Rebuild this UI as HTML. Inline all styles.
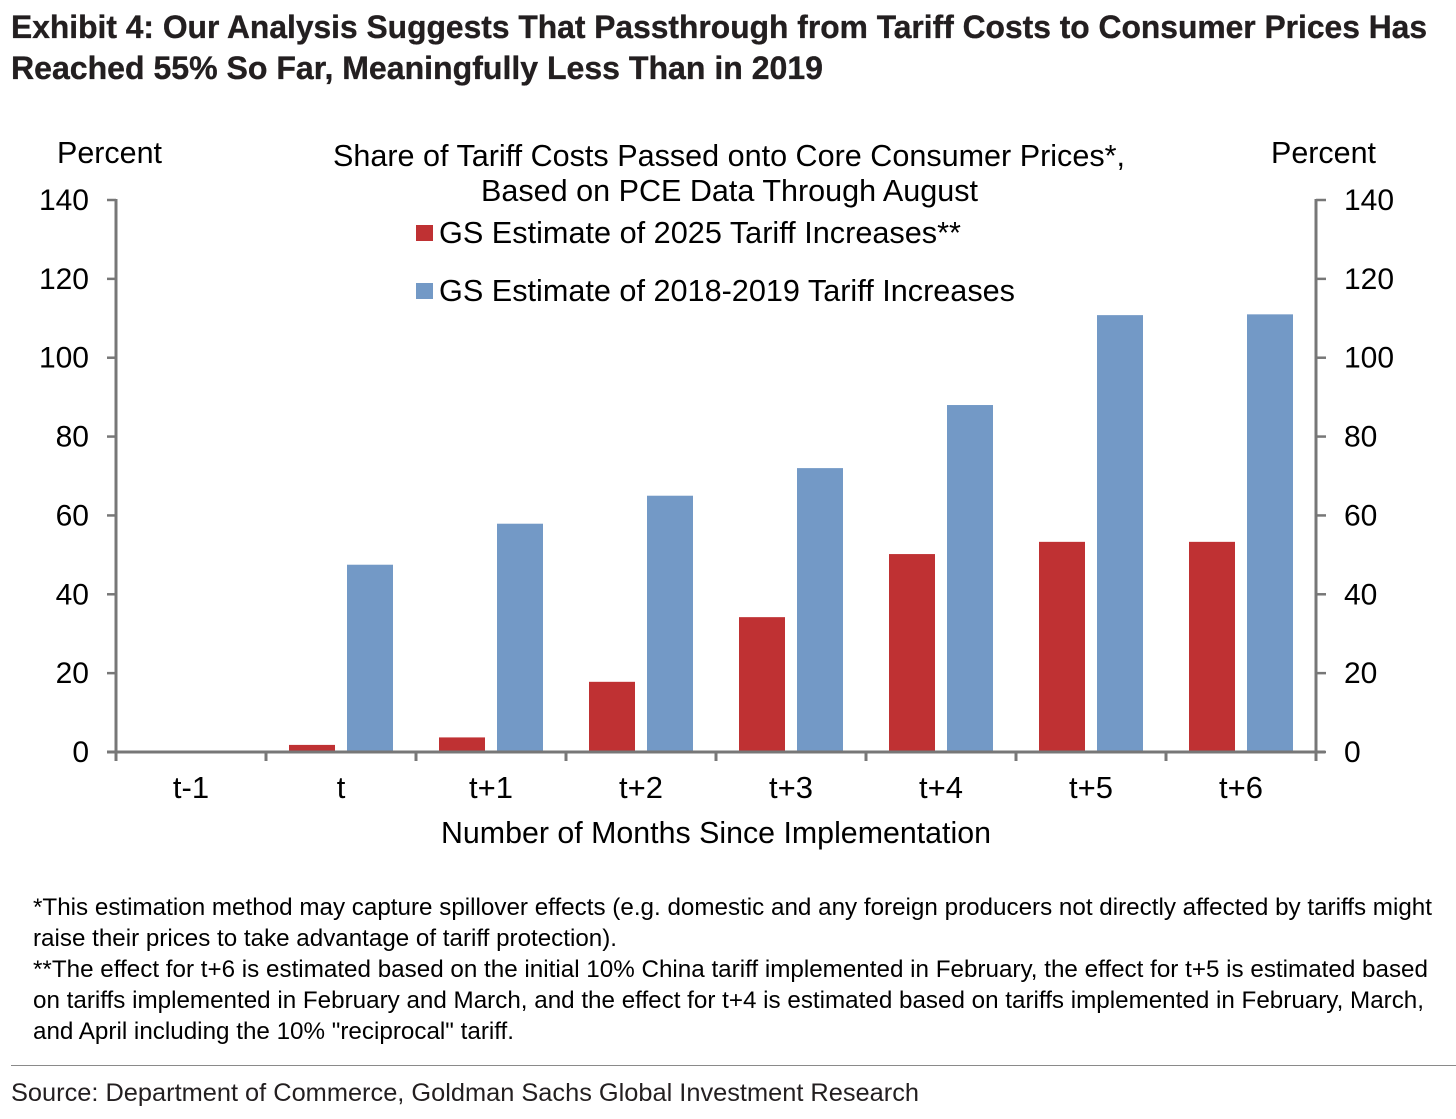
<!DOCTYPE html>
<html lang="en">
<head>
<meta charset="utf-8">
<title>Exhibit 4</title>
<style>
html,body{margin:0;padding:0;background:#fff;width:1456px;height:1119px;overflow:hidden}
svg{display:block}
text{font-family:"Liberation Sans",Arial,sans-serif;fill:#000}
.head{font-weight:bold;font-size:32px;fill:#231f20;stroke:#231f20;stroke-width:0.35px}
.lab{font-size:31px}
.note{font-size:24.5px}
.src{font-size:25px;fill:#231f20}
</style>
</head>
<body>
<svg id="chart" width="1456" height="1119" viewBox="0 0 1456 1119" xmlns="http://www.w3.org/2000/svg">
<text class="head" x="11" y="38" textLength="1416" lengthAdjust="spacingAndGlyphs">Exhibit 4: Our Analysis Suggests That Passthrough from Tariff Costs to Consumer Prices Has</text>
<text class="head" x="11" y="79" textLength="812" lengthAdjust="spacingAndGlyphs">Reached 55% So Far, Meaningfully Less Than in 2019</text>
<text class="lab" x="57" y="163" textLength="105" lengthAdjust="spacingAndGlyphs">Percent</text>
<text class="lab" x="1271" y="163" textLength="105" lengthAdjust="spacingAndGlyphs">Percent</text>
<text class="lab" x="333" y="166" textLength="792" lengthAdjust="spacingAndGlyphs">Share of Tariff Costs Passed onto Core Consumer Prices*,</text>
<text class="lab" x="481" y="201" textLength="497" lengthAdjust="spacingAndGlyphs">Based on PCE Data Through August</text>
<g>
<rect x="416" y="225" width="17" height="16" fill="#bf3133"/>
<text class="lab" x="439" y="243" textLength="522" lengthAdjust="spacingAndGlyphs">GS Estimate of 2025 Tariff Increases**</text>
<rect x="416" y="283" width="17" height="16" fill="#7399c6"/>
<text class="lab" x="439" y="301" textLength="576" lengthAdjust="spacingAndGlyphs">GS Estimate of 2018-2019 Tariff Increases</text>
</g>
<g id="plot"></g>
<text class="lab" x="441" y="843" textLength="550" lengthAdjust="spacingAndGlyphs">Number of Months Since Implementation</text>
<g>
<text class="note" x="33" y="915" textLength="1399" lengthAdjust="spacingAndGlyphs">*This estimation method may capture spillover effects (e.g. domestic and any foreign producers not directly affected by tariffs might</text>
<text class="note" x="33" y="946" textLength="584" lengthAdjust="spacingAndGlyphs">raise their prices to take advantage of tariff protection).</text>
<text class="note" x="33" y="977" textLength="1395" lengthAdjust="spacingAndGlyphs">**The effect for t+6 is estimated based on the initial 10% China tariff implemented in February, the effect for t+5 is estimated based</text>
<text class="note" x="33" y="1008" textLength="1391" lengthAdjust="spacingAndGlyphs">on tariffs implemented in February and March, and the effect for t+4 is estimated based on tariffs implemented in February, March,</text>
<text class="note" x="33" y="1039" textLength="481" lengthAdjust="spacingAndGlyphs">and April including the 10% "reciprocal" tariff.</text>
</g>
<rect x="11" y="1065" width="1445" height="1" fill="#8a8a8a"/>
<text class="src" x="11" y="1101" textLength="908" lengthAdjust="spacingAndGlyphs">Source: Department of Commerce, Goldman Sachs Global Investment Research</text>
</svg>
<script>
const categories = ["t-1", "t", "t+1", "t+2", "t+3", "t+4", "t+5", "t+6"];
const series2025 = [0, 1.8, 3.7, 17.8, 34.2, 50.2, 53.3, 53.3];
const series2018 = [0, 47.5, 57.9, 65, 72, 88, 110.8, 111];
const yTicks = [0, 20, 40, 60, 80, 100, 120, 140];

const NS = "http://www.w3.org/2000/svg";
const plot = document.getElementById("plot");
const left = 116, right = 1316, y0 = 752, yTop = 200, yMax = 140;
const band = (right - left) / categories.length;
const barW = band * 46 / 150;
const offRed = band * 23 / 150;
const offBlue = band * 81 / 150;
const axisColor = "#777777";
function yScale(v) { return y0 - (v / yMax) * (y0 - yTop); }
function xScale(i) { return left + i * band; }
function add(tag, attrs, parent) {
  const el = document.createElementNS(NS, tag);
  Object.keys(attrs).forEach(function (k) { el.setAttribute(k, attrs[k]); });
  (parent || plot).appendChild(el);
  return el;
}
function drawBar(i, v, off, color, name) {
  if (v <= 0) return;
  const el = add("rect", { x: xScale(i) + off, y: yScale(v), width: barW, height: y0 - yScale(v), fill: color });
  
  
}
categories.forEach(function (c, i) {
  drawBar(i, series2025[i], offRed, "#bf3133", "bar-2025");
  drawBar(i, series2018[i], offBlue, "#7399c6", "bar-2018-2019");
});
function line(x1, y1, x2, y2, name, w) {
  const el = add("line", { x1: x1, y1: y1, x2: x2, y2: y2, stroke: axisColor, "stroke-width": w || 3 });
  
  
}
line(left, yTop - 1, left, y0 + 1, "left-y-axis");
line(right, yTop - 1, right, y0 + 1, "right-y-axis");
line(left - 9, y0, right + 9, y0, "x-axis");
yTicks.forEach(function (t) {
  const y = yScale(t);
  line(left - 9, y, left, y, "left-tick-" + t, 2.5);
  line(right, y, right + 10, y, "right-tick-" + t, 2.5);
  const a = add("text", { x: 89, y: y + 10, "text-anchor": "end", "font-size": 30 });
  a.textContent = t;
  
  
  const b = add("text", { x: 1344, y: y + 10, "font-size": 30 });
  b.textContent = t;
  
  
});
for (let i = 0; i <= categories.length; i++) {
  line(xScale(i), y0, xScale(i), y0 + 9, "x-tick-" + i);
}
categories.forEach(function (c, i) {
  const el = add("text", { x: xScale(i) + band / 2, y: 798, "text-anchor": "middle", "font-size": 31 });
  el.textContent = c;
  
  
});
</script>
</body>
</html>
